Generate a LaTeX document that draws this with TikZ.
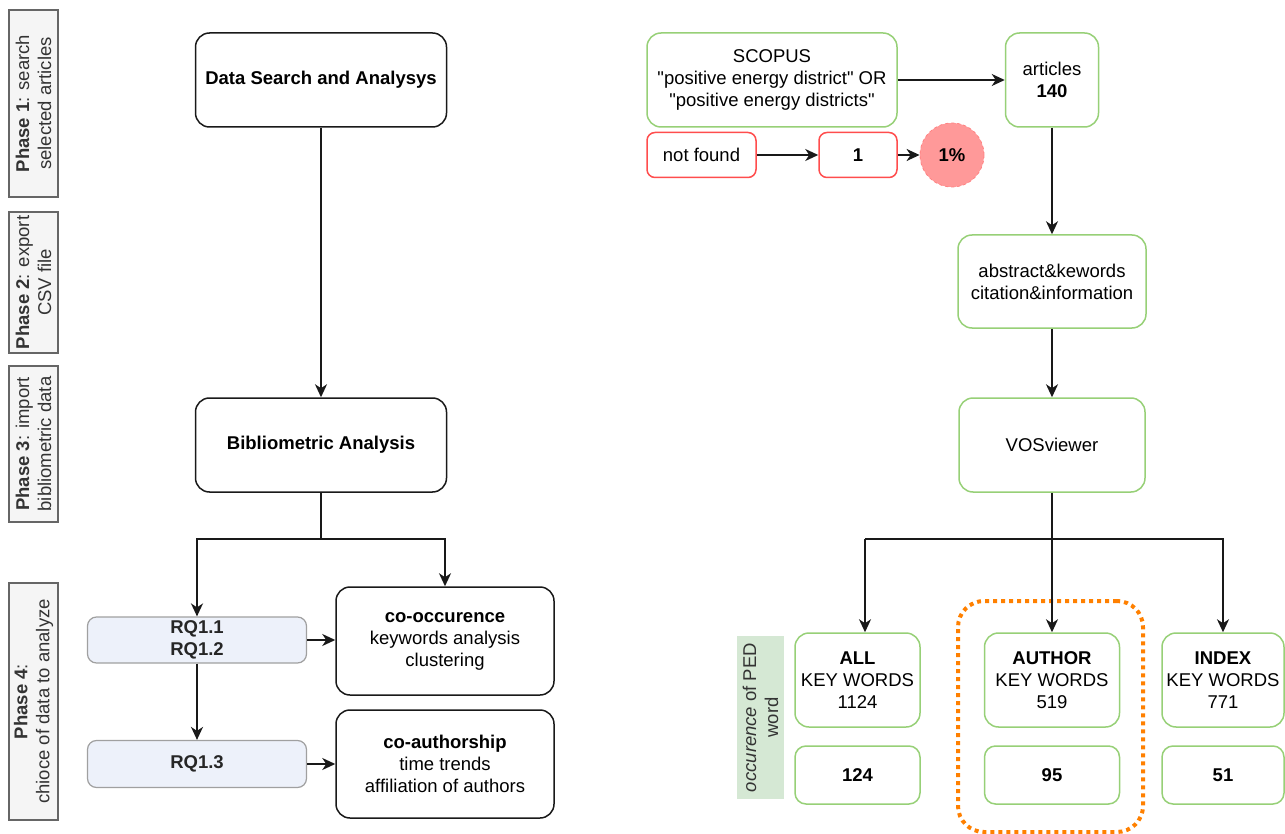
\documentclass[tikz,border=0pt]{standalone}
\usepackage{fontspec}
\setmainfont{Liberation Sans}
\usetikzlibrary{arrows.meta}

\definecolor{greenLine}{HTML}{97D077}
\definecolor{redLine}{HTML}{FF4D4D}
\definecolor{redFill}{HTML}{FF9999}
\definecolor{rqFill}{HTML}{EDF1FA}
\definecolor{rqLine}{HTML}{A0A0A0}
\definecolor{phaseFill}{HTML}{F5F5F5}
\definecolor{phaseLine}{HTML}{666666}
\definecolor{labelGreen}{HTML}{D5E8D4}
\definecolor{frameOrange}{HTML}{FF8000}

\begin{document}
\begin{tikzpicture}[x=1pt, y=-1pt,
font=\fontsize{18.5}{22}\selectfont,
>={Stealth[length=13pt, width=12pt, inset=4pt]},
flow/.style={->, line width=1.9pt, draw=black!90},
rectMain/.style={rectangle, draw=black!90, line width=1.5pt, fill=white, rounded corners=14pt, align=center, inner sep=0pt, minimum width=251pt, minimum height=94pt},
rectResult/.style={rectangle, draw=black!90, line width=1.5pt, fill=white, rounded corners=14pt, align=center, inner sep=0pt, minimum width=218pt, minimum height=108pt},
rectRQ/.style={rectangle, draw=rqLine, line width=1.2pt, fill=rqFill, rounded corners=9pt, align=center, inner sep=0pt, minimum width=219pt, minimum height=46pt, font=\fontsize{18.5}{22}\selectfont\bfseries, text=black!85},
rectPhase/.style={rectangle, draw=phaseLine, line width=1.2pt, fill=phaseFill, align=center, inner sep=0pt, rotate=90, minimum height=49pt, text=black!80},
rectGreen/.style={rectangle, draw=greenLine, line width=1.5pt, fill=white, rounded corners=14pt, align=center, inner sep=0pt, minimum height=94pt},
rectCount/.style={rectangle, draw=greenLine, line width=1.5pt, fill=white, rounded corners=11pt, align=center, inner sep=0pt, minimum height=58pt, font=\fontsize{18.5}{22}\selectfont\bfseries},
rectRed/.style={rectangle, draw=redLine, line width=1.5pt, fill=white, rounded corners=8pt, align=center, inner sep=0pt, minimum height=45pt},
circRed/.style={circle, draw=redLine!70, dashed, line width=0.8pt, fill=redFill, minimum size=64pt, inner sep=0pt, font=\fontsize{18.5}{22}\selectfont\bfseries},
rectLabel/.style={rectangle, fill=labelGreen, align=center, inner sep=0pt, rotate=90, minimum width=163pt, minimum height=47pt, text=black!80},
frameDotted/.style={rectangle, draw=frameOrange, line width=4pt, dash pattern=on 4pt off 4pt, rounded corners=26pt, minimum width=185pt, minimum height=231pt}
]

\useasboundingbox (0,0) rectangle (1285,834);

\node[rectPhase, minimum width=187pt] (phaseOne) at (33.5, 103.5) {\textbf{Phase 1}: search\\selected articles};
\node[rectPhase, minimum width=141pt] (phaseTwo) at (33.5, 282.5) {\textbf{Phase 2}: export\\CSV file};
\node[rectPhase, minimum width=156pt] (phaseThree) at (33.5, 444) {\textbf{Phase 3}: import\\bibliometric data};
\node[rectPhase, minimum width=237pt] (phaseFour) at (33.5, 701.5) {\textbf{Phase 4}:\\chioce of data to analyze};


\node[rectMain] (dataSearch) at (321, 80) {\textbf{Data Search and Analysys}};
\node[rectMain] (biblio) at (321, 445) {\textbf{Bibliometric Analysis}};

\node[rectRQ] (rqOne) at (197, 640) {RQ1.1\\RQ1.2};
\node[rectRQ, minimum height=47pt] (rqThree) at (197, 764) {RQ1.3};
\node[rectResult] (coOcc) at (445, 641) {\textbf{co-occurence}\\keywords analysis\\clustering};
\node[rectResult] (coAuth) at (445, 764) {\textbf{co-authorship}\\time trends\\affiliation of authors};

\coordinate (splitLeft) at (321, 539);



\node[rectGreen, minimum width=250pt] (scopus) at (772, 80) {SCOPUS\\\textquotedbl positive energy district\textquotedbl{} OR\\\textquotedbl positive energy districts\textquotedbl};
\node[rectGreen, minimum width=93pt] (articles) at (1052, 80) {articles\\\textbf{140}};

\node[rectRed, minimum width=109pt] (notFound) at (701.5, 155) {not found};
\node[rectRed, minimum width=78pt, font=\fontsize{18.5}{22}\selectfont\bfseries] (one) at (858, 155) {1};
\node[circRed] (percent) at (952, 155) {1\%};

\node[rectGreen, minimum width=188pt, minimum height=93pt] (abstract) at (1052, 281.5) {abstract\&kewords\\citation\&information};
\node[rectGreen, minimum width=186pt] (vos) at (1052, 445) {VOSviewer};

\node[frameDotted] (authorFrame) at (1050.5, 716.5) {};

\node[rectLabel] (pedLabel) at (760.5, 717.5) {\textit{occurence} of PED\\word};

\node[rectGreen, minimum width=125pt] (allKw) at (857.5, 680) {\textbf{ALL}\\KEY WORDS\\1124};
\node[rectGreen, minimum width=135pt] (authorKw) at (1052, 680) {\textbf{AUTHOR}\\KEY WORDS\\519};
\node[rectGreen, minimum width=122pt] (indexKw) at (1223, 680) {\textbf{INDEX}\\KEY WORDS\\771};

\node[rectCount, minimum width=125pt] (allCount) at (857.5, 775) {124};
\node[rectCount, minimum width=135pt] (authorCount) at (1052, 775) {95};
\node[rectCount, minimum width=122pt] (indexCount) at (1223, 775) {51};

\coordinate (splitRight) at (1052, 539);
\coordinate (allIn) at (865, 539);



\draw[flow] (dataSearch) -- (biblio);
\draw[flow] (rqOne) -- (rqThree);
\draw[flow] (rqOne) -- (coOcc.west |- rqOne.east);
\draw[flow] (rqThree) -- (coAuth.west |- rqThree.east);
\draw[flow] (scopus) -- (articles);
\draw[flow] (notFound) -- (one);
\draw[flow] (one) -- (percent);
\draw[flow] (articles) -- (abstract);
\draw[flow] (abstract) -- (vos);
\draw[flow] (vos) -- (authorKw);

\draw[flow, -] (biblio) -- (splitLeft);
\draw[flow] (splitLeft) -| (rqOne);
\draw[flow] (splitLeft) -| (coOcc);

\draw[flow, -] (splitRight) -- (allIn);
\draw[flow] (allIn) -- (allIn |- allKw.north);
\draw[flow] (splitRight) -| (indexKw);

\end{tikzpicture}
\end{document}
